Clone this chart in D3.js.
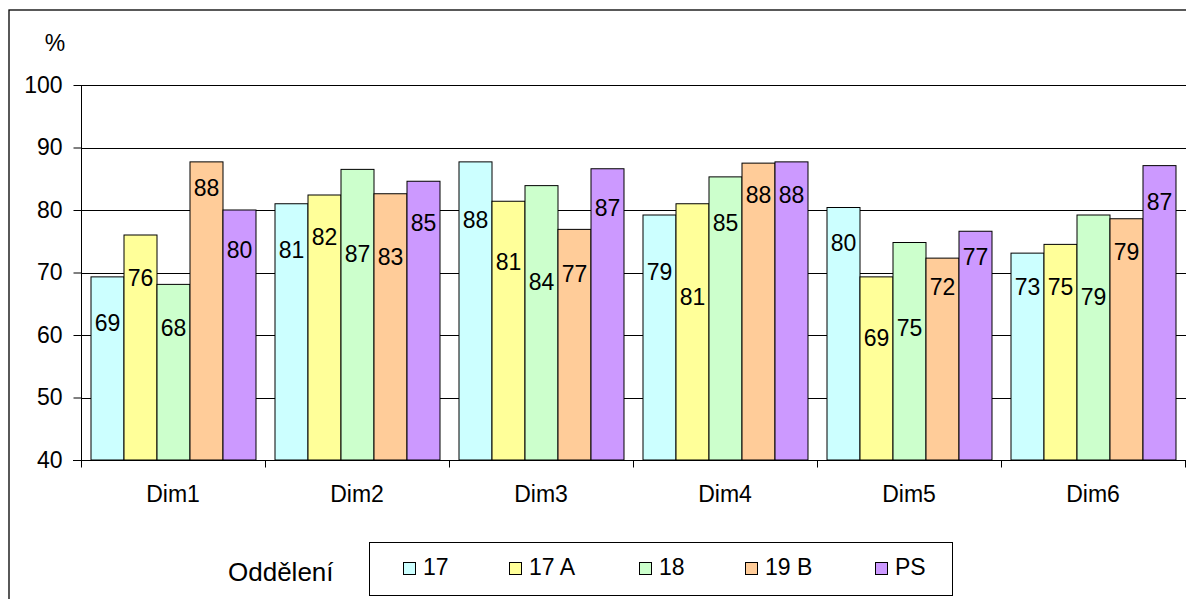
<!DOCTYPE html>
<meta charset="utf-8">
<body style="margin:0;background:#fff">
<div id="chart"></div>
<style>
  text { font-family: "Liberation Sans", Arial, sans-serif; fill: #000; }
</style>
<script src="https://d3js.org/d3.v7.min.js"></script>
<script>
var categories = ["Dim1", "Dim2", "Dim3", "Dim4", "Dim5", "Dim6"];
var seriesNames = ["17", "17 A", "18", "19 B", "PS"];
var s17  = [69.3, 81.0, 87.7, 79.2, 80.4, 73.1];
var s17A = [76.0, 82.4, 81.4, 81.0, 69.3, 74.5];
var s18  = [68.1, 86.5, 83.9, 85.3, 74.8, 79.2];
var s19B = [87.7, 82.6, 76.9, 87.5, 72.3, 78.6];
var sPS  = [80.0, 84.6, 86.6, 87.7, 76.6, 87.1];
// where each value label sits, in axis units
var lab17  = [62.0, 73.7, 78.4, 70.2, 74.7, 67.7];
var lab17A = [69.1, 75.8, 71.7, 66.1, 59.6, 67.7];
var lab18  = [61.2, 73.0, 68.6, 78.0, 61.2, 66.1];
var lab19B = [83.6, 72.6, 69.8, 82.5, 67.8, 73.4];
var labPS  = [73.7, 78.0, 80.4, 82.5, 72.6, 81.3];
var yTicks = [40, 50, 60, 70, 80, 90, 100];
var colors = ["#ccffff", "#ffff99", "#ccffcc", "#ffcc99", "#cc99ff"];

var series = [s17, s17A, s18, s19B, sPS];
var labels = [lab17, lab17A, lab18, lab19B, labPS];

var width = 1186, height = 599;
var plotLeft = 81, plotRight = 1185, plotTop = 85, plotBottom = 460;
var fs = 23;

var svg = d3.select("#chart").append("svg")
    .attr("width", width)
    .attr("height", height);

// outer frame
svg.append("rect")
    .attr("x", 9).attr("y", 10)
    .attr("width", 1200).attr("height", 700)
    .attr("fill", "none").attr("stroke", "#000").attr("stroke-width", 1.3);

var y = d3.scaleLinear().domain([40, 100]).range([plotBottom, plotTop]);
var x0 = d3.scaleBand().domain(categories).range([plotLeft, plotRight]).padding(0);
var x1 = d3.scaleBand().domain(d3.range(5)).range([0, x0.bandwidth()])
    .paddingInner(0).paddingOuter(0.288);

// gridlines
svg.selectAll(".grid").data(yTicks.slice(1)).enter().append("line")
    .attr("x1", plotLeft).attr("x2", plotRight + 1)
    .attr("y1", function(d){ return Math.round(y(d)) + 0.5; })
    .attr("y2", function(d){ return Math.round(y(d)) + 0.5; })
    .attr("stroke", "#000").attr("stroke-width", 1);

// y axis
var yAxis = d3.axisLeft(y).tickValues(yTicks).tickSize(8).tickPadding(11);
var gy = svg.append("g").attr("transform", "translate(" + (plotLeft + 0.5) + ",0)").call(yAxis);
gy.select(".domain").attr("d", "M0," + plotTop + "V" + (plotBottom + 7)).attr("stroke", "#000");
gy.selectAll("line").attr("stroke", "#000");
gy.selectAll("text").attr("font-size", fs).attr("fill", "#000")
    .style("font-family", "'Liberation Sans', Arial, sans-serif");

svg.append("text").attr("x", 55).attr("y", 51)
    .attr("text-anchor", "middle").attr("font-size", fs).text("%");

// bars
var groups = svg.selectAll(".grp").data(categories).enter().append("g")
    .attr("transform", function(d){ return "translate(" + x0(d) + ",0)"; });

groups.each(function(cat, ci) {
  var g = d3.select(this);
  var rows = series.map(function(s, si){ return {si: si, v: s[ci], l: labels[si][ci]}; });
  g.selectAll("rect").data(rows).enter().append("rect")
      .attr("x", function(d){ return x1(d.si) + 0.5; })
      .attr("y", function(d){ return y(d.v); })
      .attr("width", x1.bandwidth())
      .attr("height", function(d){ return plotBottom - y(d.v); })
      .attr("fill", function(d){ return colors[d.si]; })
      .attr("stroke", "#000").attr("stroke-width", 1);
  g.selectAll("text").data(rows).enter().append("text")
      .attr("x", function(d){ return x1(d.si) + x1.bandwidth() / 2 + 0.5; })
      .attr("y", function(d){ return y(d.l); })
      .attr("dy", "0.36em")
      .attr("text-anchor", "middle").attr("font-size", fs)
      .text(function(d){ return Math.round(d.v); });
});

// x axis
var xAxis = d3.axisBottom(x0).tickSize(0).tickPadding(25);
var gx = svg.append("g").attr("transform", "translate(0," + (plotBottom + 0.5) + ")").call(xAxis);
gx.select(".domain").attr("d", "M" + (plotLeft - 8) + ",0H" + (plotRight + 1)).attr("stroke", "#000");
gx.selectAll("text").attr("font-size", fs).attr("fill", "#000").attr("dy", "0.71em")
    .style("font-family", "'Liberation Sans', Arial, sans-serif");
gx.selectAll(".bound").data(d3.range(categories.length + 1)).enter().append("line")
    .attr("x1", function(i){ return Math.round(plotLeft + i * x0.step()) + 0.5; })
    .attr("x2", function(i){ return Math.round(plotLeft + i * x0.step()) + 0.5; })
    .attr("y1", 0).attr("y2", 7).attr("stroke", "#000");

// legend
svg.append("text").attr("x", 228).attr("y", 581).attr("font-size", 26).text("Oddělení");
var lx = 369, ly = 542;
svg.append("rect").attr("x", lx + 0.5).attr("y", ly + 0.5)
    .attr("width", 583).attr("height", 53)
    .attr("fill", "#fff").attr("stroke", "#000").attr("stroke-width", 1);
var itemOffsets = [34, 140, 270, 376, 506];
var items = svg.selectAll(".leg").data(seriesNames).enter().append("g")
    .attr("transform", function(d, i){ return "translate(" + (lx + itemOffsets[i]) + "," + ly + ")"; });
items.append("rect").attr("x", 0.5).attr("y", 20.5).attr("width", 12).attr("height", 12)
    .attr("fill", function(d, i){ return colors[i]; }).attr("stroke", "#000");
items.append("text").attr("x", 20).attr("y", 33).attr("font-size", fs)
    .text(function(d){ return d; });
</script>
</body>
